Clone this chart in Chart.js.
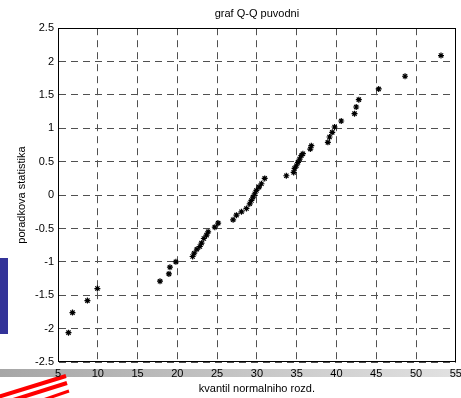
<!DOCTYPE html>
<html>
<head>
<meta charset="utf-8">
<script src="https://cdn.jsdelivr.net/npm/chart.js@4.4.1/dist/chart.umd.min.js"></script>
<style>
html,body{margin:0;padding:0;background:#fff;overflow:hidden;}
#wrap{position:relative;width:461px;height:398px;}
</style>
</head>
<body>
<div id="wrap"><canvas id="c" width="461" height="398"></canvas></div>
<script>
// Data
const xValues = [6.32, 6.82, 8.70, 9.95, 17.82, 18.94, 19.07, 19.82, 21.92, 22.12,
  22.46, 22.83, 23.04, 23.33, 23.67, 23.87, 24.71, 25.13, 27.01, 27.43,
  28.06, 28.69, 29.10, 29.31, 29.51, 29.73, 29.94, 30.27, 30.57, 30.98,
  33.70, 34.62, 34.74, 34.96, 35.16, 35.37, 35.58, 35.78, 36.71, 36.84,
  38.92, 39.13, 39.47, 39.76, 40.60, 42.27, 42.48, 42.81, 45.31, 48.62, 53.14];
const yValues = [-2.06, -1.76, -1.58, -1.40, -1.29, -1.18, -1.08, -1.00, -0.92, -0.87,
  -0.81, -0.77, -0.72, -0.65, -0.60, -0.55, -0.48, -0.42, -0.37, -0.30,
  -0.25, -0.20, -0.13, -0.08, -0.03, 0.02, 0.07, 0.12, 0.17, 0.25,
  0.29, 0.34, 0.40, 0.44, 0.49, 0.54, 0.59, 0.62, 0.69, 0.74,
  0.79, 0.87, 0.94, 1.02, 1.11, 1.22, 1.32, 1.43, 1.59, 1.78, 2.09];
const xTicks = [5, 10, 15, 20, 25, 30, 35, 40, 45, 50, 55];
const yTicks = [-2.5, -2, -1.5, -1, -0.5, 0, 0.5, 1, 1.5, 2, 2.5];
const titleText = 'graf Q-Q puvodni';
const xTitle = 'kvantil normalniho rozd.';
const yTitle = 'poradkova statistika';

const points = xValues.map((x, i) => ({x: x, y: yValues[i]}));
const FONT = 'Arial, "Liberation Sans", sans-serif';

const background = {
  id: 'background',
  beforeDraw(chart) {
    const ctx = chart.ctx;
    ctx.save();
    ctx.fillStyle = '#fff';
    ctx.fillRect(0, 0, chart.width, chart.height);
    // slide decorations
    ctx.fillStyle = '#333399';
    ctx.fillRect(0, 258, 8, 76);
    const g = ctx.createLinearGradient(0, 0, chart.width, 0);
    g.addColorStop(0, '#a6a6a6');
    g.addColorStop(1, '#e2e2e2');
    ctx.fillStyle = g;
    ctx.fillRect(0, 369, chart.width, 8);
    ctx.strokeStyle = '#ff0000';
    ctx.lineCap = 'butt';
    ctx.lineWidth = 4;
    ctx.beginPath(); ctx.moveTo(-2, 397); ctx.lineTo(66, 376); ctx.stroke();
    ctx.beginPath(); ctx.moveTo(10, 401); ctx.lineTo(67, 383); ctx.stroke();
    ctx.lineWidth = 3;
    ctx.beginPath(); ctx.moveTo(40, 401); ctx.lineTo(69, 391); ctx.stroke();
    ctx.restore();
  },
  afterDraw(chart) {
    const {ctx, chartArea: a} = chart;
    ctx.save();
    ctx.strokeStyle = '#000';
    ctx.lineWidth = 1;
    ctx.strokeRect(Math.round(a.left) + 0.5, Math.round(a.top) + 0.5,
      Math.round(a.right - a.left) - 1, Math.round(a.bottom - a.top) - 1);
    ctx.restore();
  }
};

const gridOpts = {
  color: '#505050',
  lineWidth: 1,
  drawTicks: false,
  tickLength: 0
};
const borderOpts = {display: true, color: 'rgba(0,0,0,0)', width: 1, dash: [7, 5], dashOffset: 0};

new Chart(document.getElementById('c'), {
  type: 'scatter',
  data: {
    datasets: [{
      data: points,
      pointStyle: 'star',
      radius: 3,
      borderColor: '#000',
      backgroundColor: '#000',
      borderWidth: 1.2
    }]
  },
  options: {
    responsive: false,
    animation: false,
    devicePixelRatio: 1,
    layout: {padding: {left: 0, right: 4, top: 0, bottom: 0}},
    plugins: {
      legend: {display: false},
      tooltip: {enabled: false},
      title: {
        display: true,
        text: titleText,
        fullSize: false,
        color: '#000',
        font: {family: FONT, size: 11, weight: 'normal'},
        padding: {top: 7, bottom: 8}
      }
    },
    scales: {
      x: {
        type: 'linear',
        min: 5, max: 55,
        afterBuildTicks: s => { s.ticks = xTicks.map(v => ({value: v})); },
        afterFit: s => { s.paddingLeft = 0; s.paddingRight = 0; s.height = 36; },
        grid: gridOpts,
        border: borderOpts,
        ticks: {color: '#000', font: {family: FONT, size: 11}, padding: 5, maxRotation: 0, autoSkip: false,
          callback: v => String(v)},
        title: {display: true, text: xTitle, color: '#000', font: {family: FONT, size: 11}, padding: {top: 0, bottom: 2}}
      },
      y: {
        type: 'linear',
        min: -2.5, max: 2.5,
        afterBuildTicks: s => { s.ticks = yTicks.map(v => ({value: v})); },
        afterFit: s => { s.width = 58; },
        grid: gridOpts,
        border: borderOpts,
        ticks: {color: '#000', font: {family: FONT, size: 11}, padding: 4, autoSkip: false,
          callback: v => String(v)},
        title: {display: true, text: yTitle, color: '#000', font: {family: FONT, size: 11}, padding: {top: 15, bottom: 0}}
      }
    }
  },
  plugins: [background]
});
</script>
</body>
</html>
